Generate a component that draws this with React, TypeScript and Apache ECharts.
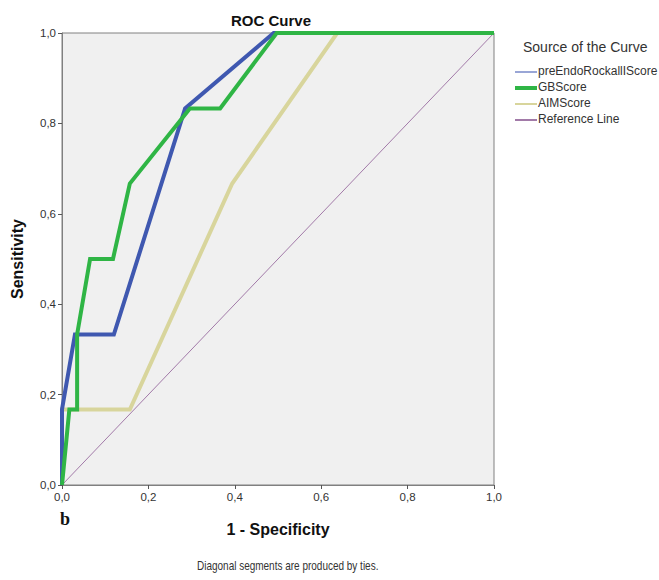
import React, { useEffect, useRef } from "react";
import * as echarts from "echarts";

const xTicks = [0, 0.2, 0.4, 0.6, 0.8, 1.0];

const seriesNames = ["preEndoRockallIScore", "GBScore", "AIMScore", "Reference Line"];

const rockallX = [0, 0, 0.03, 0.12, 0.285, 0.49, 1];
const rockallY = [0, 0.167, 0.333, 0.333, 0.833, 1, 1];

const gbX = [0, 0.017, 0.035, 0.035, 0.065, 0.118, 0.157, 0.296, 0.366, 0.497, 1];
const gbY = [0, 0.167, 0.167, 0.333, 0.5, 0.5, 0.667, 0.833, 0.833, 1, 1];

const aimX = [0, 0, 0.157, 0.394, 0.637, 1];
const aimY = [0, 0.167, 0.167, 0.667, 1, 1];

const refX = [0, 1];
const refY = [0, 1];

const colors = ["#3f58b0", "#2fb545", "#d8d59c", "#a27aa8"];
const widths = [4, 4, 4, 1];

const pairs = (xs: number[], ys: number[]) => xs.map((x, i) => [x, ys[i]]);

export default function App() {
  const ref = useRef<HTMLDivElement>(null);
  useEffect(() => {
    document.body.style.margin = "0";
    const chart = echarts.init(ref.current!, null, { renderer: "svg" });
    const font = "Liberation Sans, Arial, sans-serif";
    const fmt = (v: number) => v.toFixed(1).replace(".", ",");
    const data = [
      pairs(refX, refY),
      pairs(aimX, aimY),
      pairs(rockallX, rockallY),
      pairs(gbX, gbY),
    ];
    const idx = [3, 2, 0, 1];
    const legendYs = [72, 88, 104, 120];
    chart.setOption({
      animation: false,
      backgroundColor: "#ffffff",
      title: {
        text: "ROC Curve",
        left: 266,
        top: 8,
        textAlign: "center",
        textStyle: { fontFamily: font, fontSize: 15, fontWeight: "bold", color: "#111" },
      },
      grid: {
        left: 62,
        top: 33,
        width: 432,
        height: 452,
        show: true,
        backgroundColor: "#f0f0f0",
        borderColor: "#808080",
        borderWidth: 1,
      },
      xAxis: {
        type: "value",
        min: 0,
        max: 1,
        interval: 0.2,
        name: "1 - Specificity",
        nameLocation: "middle",
        nameGap: 36,
        nameTextStyle: { fontFamily: font, fontSize: 16, fontWeight: "bold", color: "#111" },
        axisLine: { lineStyle: { color: "#808080" } },
        axisTick: { show: true, length: 4, lineStyle: { color: "#555" } },
        axisLabel: { formatter: fmt, fontFamily: font, fontSize: 11.5, color: "#333", margin: 6 },
        splitLine: { show: false },
      },
      yAxis: {
        type: "value",
        min: 0,
        max: 1,
        interval: 0.2,
        name: "Sensitivity",
        nameLocation: "middle",
        nameGap: 37,
        nameTextStyle: { fontFamily: font, fontSize: 16, fontWeight: "bold", color: "#111" },
        axisLine: { show: true, lineStyle: { color: "#808080" } },
        axisTick: { show: true, length: 4, lineStyle: { color: "#555" } },
        axisLabel: { formatter: fmt, fontFamily: font, fontSize: 11.5, color: "#333", margin: 6 },
        splitLine: { show: false },
      },
      series: data.map((d, k) => ({
        type: "line",
        name: seriesNames[idx[k]],
        data: d,
        symbol: "none",
        lineStyle: { color: colors[idx[k]], width: widths[idx[k]], join: "miter" },
        itemStyle: { color: colors[idx[k]] },
        z: 2 + k,
      })),
      graphic: [
        {
          type: "text",
          left: 523,
          top: 40,
          style: { text: "Source of the Curve", fontFamily: font, fontSize: 14, fill: "#333" },
        },
        ...seriesNames.flatMap((n, i) => [
          {
            type: "line",
            shape: { x1: 515, y1: legendYs[i], x2: 537, y2: legendYs[i] },
            style: { stroke: i === 1 ? "#2fb545" : i === 0 ? "#99a6d6" : colors[i], lineWidth: i === 1 ? 4 : 2 },
          },
          {
            type: "text",
            left: 538,
            top: legendYs[i] - 7,
            style: { text: n, fontFamily: font, fontSize: 12, fill: "#333" },
          },
        ]),
        {
          type: "text",
          left: 60,
          top: 510,
          style: { text: "b", fontFamily: "Liberation Serif, serif", fontSize: 18, fontWeight: "bold", fill: "#111" },
        },
        {
          type: "text",
          x: 197,
          y: 559,
          scaleX: 0.8,
          style: { text: "Diagonal segments are produced by ties.", fontFamily: font, fontSize: 12.5, fill: "#333" },
        },
      ],
    });
    return () => chart.dispose();
  }, []);
  return <div ref={ref} style={{ width: 659, height: 580 }} />;
}
